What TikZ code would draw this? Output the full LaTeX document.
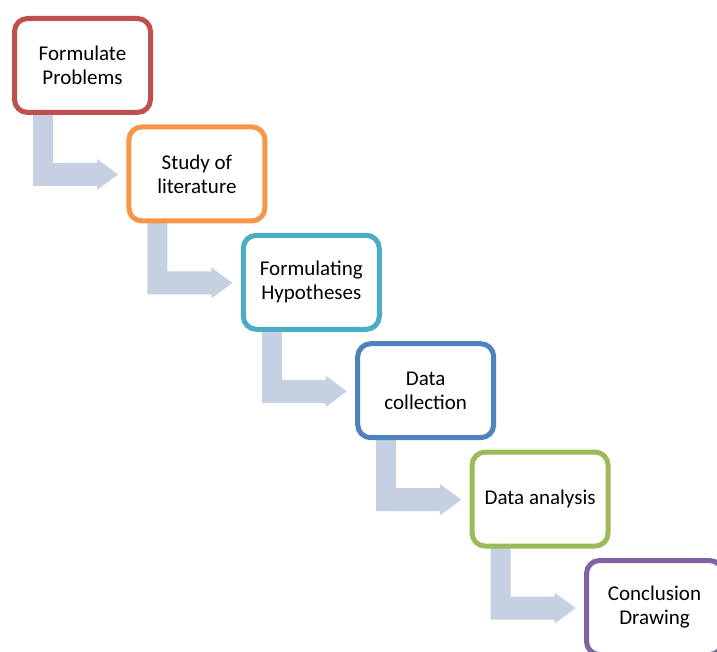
\documentclass[tikz,border=0pt]{standalone}
\usepackage{fontspec}
\setmainfont{Carlito}
\usetikzlibrary{calc}
\pgfdeclarelayer{bg}
\pgfsetlayers{bg,main}
\definecolor{cred}{RGB}{192,80,77}
\definecolor{corange}{RGB}{247,150,70}
\definecolor{caqua}{RGB}{75,172,198}
\definecolor{cblue}{RGB}{79,129,189}
\definecolor{cgreen}{RGB}{155,187,89}
\definecolor{cpurple}{RGB}{128,100,162}
\definecolor{carrow}{RGB}{197,208,226}
\tikzset{
  stepbox/.style={draw, line width=5pt, fill=white, rounded corners=13pt,
    minimum width=136pt, minimum height=94pt, align=center, inner sep=0pt,
    font=\fontsize{21}{24}\selectfont, text=black},
  bentarrow/.style={fill=carrow, draw=none}
}
\newcommand{\bentarr}[1]{%
  \fill[bentarrow] ($(#1.south west)+(21,-5)$) -- ($(#1.south west)+(41,-5)$)
    -- ($(#1.south west)+(41,48)$) -- ($(#1.south west)+(85,48)$)
    -- ($(#1.south west)+(85,44)$) -- ($(#1.south west)+(106,59.5)$)
    -- ($(#1.south west)+(85,75)$) -- ($(#1.south west)+(85,71)$)
    -- ($(#1.south west)+(21,71)$) -- cycle;}
\begin{document}
\begin{tikzpicture}[x=1pt,y=-1pt]
\useasboundingbox (0,0) rectangle (717,652);
\clip (0,0) rectangle (717,652);
\node[stepbox, draw=cred] (b1) at (82.5,65.5) {Formulate\\Problems};
\node[stepbox, draw=corange] (b2) at (196.9,173.9) {Study of\\literature};
\node[stepbox, draw=caqua] (b3) at (311.3,282.3) {Formulating\\Hypotheses};
\node[stepbox, draw=cblue] (b4) at (425.7,390.7) {Data\\collection};
\node[stepbox, draw=cgreen] (b5) at (540.1,499.1) {Data analysis};
\node[stepbox, draw=cpurple] (b6) at (654.5,607.5) {Conclusion\\Drawing};
\begin{pgfonlayer}{bg}
\bentarr{b1}
\bentarr{b2}
\bentarr{b3}
\bentarr{b4}
\bentarr{b5}
\end{pgfonlayer}
\end{tikzpicture}
\end{document}
